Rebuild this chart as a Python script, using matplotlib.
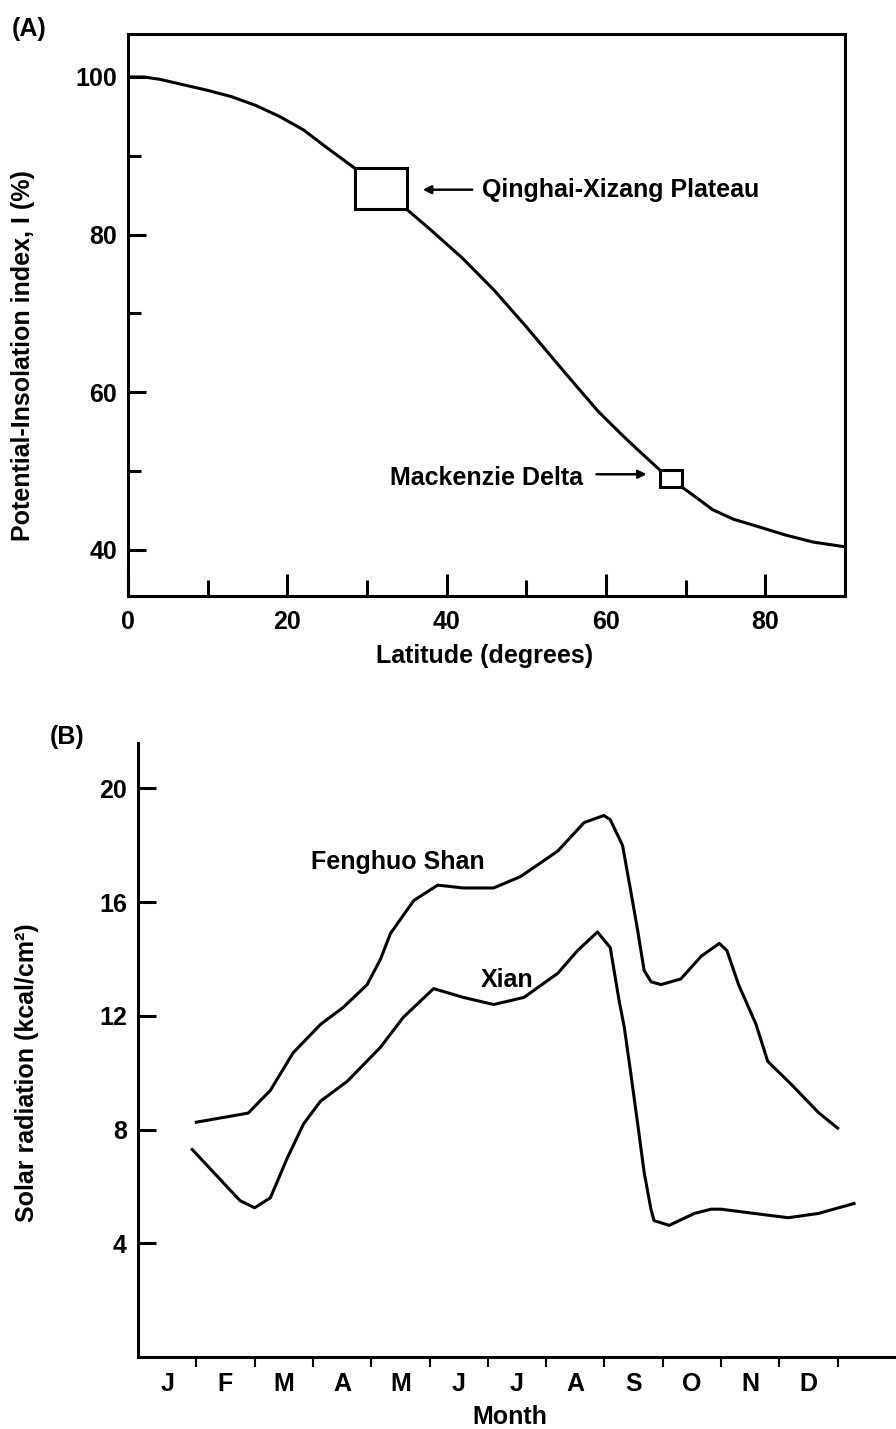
import matplotlib
matplotlib.use("Agg")
import matplotlib.pyplot as plt
from matplotlib.patches import Rectangle

# (A) potential-insolation index vs latitude, curve broken at the two boxes
lat_seg1 = [0, 2, 4, 7, 10, 13, 16, 19, 22, 25, 28.5]
ins_seg1 = [100, 100, 99.7, 99.0, 98.3, 97.5, 96.4, 95.0, 93.3, 91.0, 88.4]
lat_seg2 = [35, 38, 42, 46, 50, 55, 59, 62, 64, 66.8]
ins_seg2 = [83.2, 80.6, 77.0, 72.9, 68.3, 62.3, 57.6, 54.6, 52.7, 50.1]
lat_seg3 = [69.5, 71.4, 73.4, 76, 79.3, 82.5, 86, 90]
ins_seg3 = [48.0, 46.6, 45.1, 43.9, 42.9, 41.9, 41.0, 40.4]

# boxes: (lat0, lat1, I0, I1)
plateau_box = (28.5, 35, 83.2, 88.4)
mackenzie_box = (66.8, 69.5, 48.0, 50.1)

# (B) monthly solar radiation, x in months from start of January
fh_month = [1.0, 1.89, 2.27, 2.66, 3.13, 3.52, 3.93, 4.16, 4.33, 4.73, 5.14,
            5.58, 6.10, 6.56, 7.2, 7.65, 7.99, 8.1, 8.31, 8.45, 8.57, 8.68,
            8.8, 8.97, 9.31, 9.66, 9.97, 10.1, 10.3, 10.6, 10.8, 11.2, 11.67, 12.0]
fh_rad = [8.26, 8.58, 9.38, 10.7, 11.7, 12.3, 13.1, 14.0, 14.9, 16.06, 16.6,
          16.5, 16.5, 16.9, 17.8, 18.8, 19.05, 18.9, 18.0, 16.4, 15.0, 13.6,
          13.2, 13.1, 13.3, 14.1, 14.55, 14.3, 13.1, 11.7, 10.4, 9.6, 8.6, 8.05]

xian_month = [0.93, 1.75, 2.0, 2.27, 2.56, 2.84, 3.13, 3.59, 4.16, 4.55, 5.07,
              5.58, 6.10, 6.62, 7.2, 7.54, 7.88, 8.1, 8.25, 8.34, 8.45, 8.57,
              8.68, 8.8, 8.85, 9.11, 9.54, 9.83, 10.0, 10.57, 11.15, 11.67, 12.28]
xian_rad = [7.3, 5.5, 5.25, 5.6, 7.0, 8.2, 9.0, 9.7, 10.9, 11.95, 12.96,
            12.65, 12.4, 12.65, 13.5, 14.3, 14.95, 14.4, 12.55, 11.6, 10.0, 8.2,
            6.5, 5.17, 4.8, 4.63, 5.05, 5.2, 5.2, 5.05, 4.9, 5.05, 5.4]

month_labels = ["J", "F", "M", "A", "M", "J", "J", "A", "S", "O", "N", "D"]

plt.rcParams["font.family"] = ["Liberation Sans", "DejaVu Sans"]
plt.rcParams["font.weight"] = "bold"
plt.rcParams["font.size"] = 18

W, H = 896, 1429
fig = plt.figure(figsize=(W / 100, H / 100), dpi=100)


def box(l, t, r, b):
    # pixel box -> figure fraction rect
    return [l / W, 1 - b / H, (r - l) / W, (b - t) / H]


lw = 2.2

# ---- panel A ----
ax = fig.add_axes(box(128, 34, 845, 596))
for x, y in ((lat_seg1, ins_seg1), (lat_seg2, ins_seg2), (lat_seg3, ins_seg3)):
    ax.plot(x, y, color="k", lw=lw, solid_capstyle="round")
for b in (plateau_box, mackenzie_box):
    ax.add_patch(Rectangle((b[0], b[2]), b[1] - b[0], b[3] - b[2],
                           fill=False, ec="k", lw=lw))
ax.set_xlim(0, 90)
ax.set_ylim(34.16, 105.45)
ax.set_xticks([0, 20, 40, 60, 80])
ax.set_xticks([10, 30, 50, 70], minor=True)
ax.set_yticks([40, 60, 80, 100])
ax.set_yticks([50, 70, 90], minor=True)
ax.tick_params(axis="x", which="major", direction="in", length=16, width=lw, pad=10)
ax.tick_params(axis="x", which="minor", direction="in", length=11.5, width=lw)
ax.tick_params(axis="y", which="major", direction="in", length=13, width=lw, pad=8)
ax.tick_params(axis="y", which="minor", direction="in", length=9.5, width=lw)
for s in ax.spines.values():
    s.set_linewidth(lw)

arrow = dict(arrowstyle="-|>", color="k", lw=1.8, mutation_scale=12,
             shrinkA=0, shrinkB=0)
ax.annotate("", xy=(37.0, 85.7), xytext=(43.2, 85.7), arrowprops=arrow)
ax.text(44.4, 85.7, "Qinghai-Xizang Plateau", va="center", ha="left")
ax.annotate("", xy=(65.1, 49.6), xytext=(58.8, 49.6), arrowprops=arrow)
ax.text(57.1, 49.1, "Mackenzie Delta", va="center", ha="right")

fig.text(12 / W, 1 - 29 / H, "(A)", va="center", ha="left")
fig.text(23 / W, 1 - 356 / H, "Potential-Insolation index, I (%)",
         rotation=90, va="center", ha="center")
fig.text(485 / W, 1 - 656 / H, "Latitude (degrees)", va="center", ha="center")

# ---- panel B ----
bx = fig.add_axes(box(138, 743, 896, 1357))
bx.plot(fh_month, fh_rad, color="k", lw=lw)
bx.plot(xian_month, xian_rad, color="k", lw=lw)
bx.set_xlim(0, 13)
bx.set_ylim(0, 21.6)
bx.spines["top"].set_visible(False)
bx.spines["right"].set_visible(False)
for s in ("left", "bottom"):
    bx.spines[s].set_linewidth(lw)
bx.set_yticks([4, 8, 12, 16, 20])
bx.tick_params(axis="y", direction="in", length=13, width=lw, pad=8)
bx.set_xticks([i + 0.5 for i in range(12)])
bx.set_xticklabels(month_labels)
bx.set_xticks(list(range(1, 13)), minor=True)
bx.tick_params(axis="x", which="major", length=0, pad=11)
bx.tick_params(axis="x", which="minor", direction="out", length=7, width=1.5)

bx.text(2.96, 17.4, "Fenghuo Shan", va="center", ha="left")
bx.text(5.88, 13.25, "Xian", va="center", ha="left")

fig.text(50 / W, 1 - 737 / H, "(B)", va="center", ha="left")
fig.text(27 / W, 1 - 1073 / H, "Solar radiation (kcal/cm²)",
         rotation=90, va="center", ha="center")
fig.text(510 / W, 1 - 1417 / H, "Month", va="center", ha="center")

fig.savefig("out.png", dpi=100)
